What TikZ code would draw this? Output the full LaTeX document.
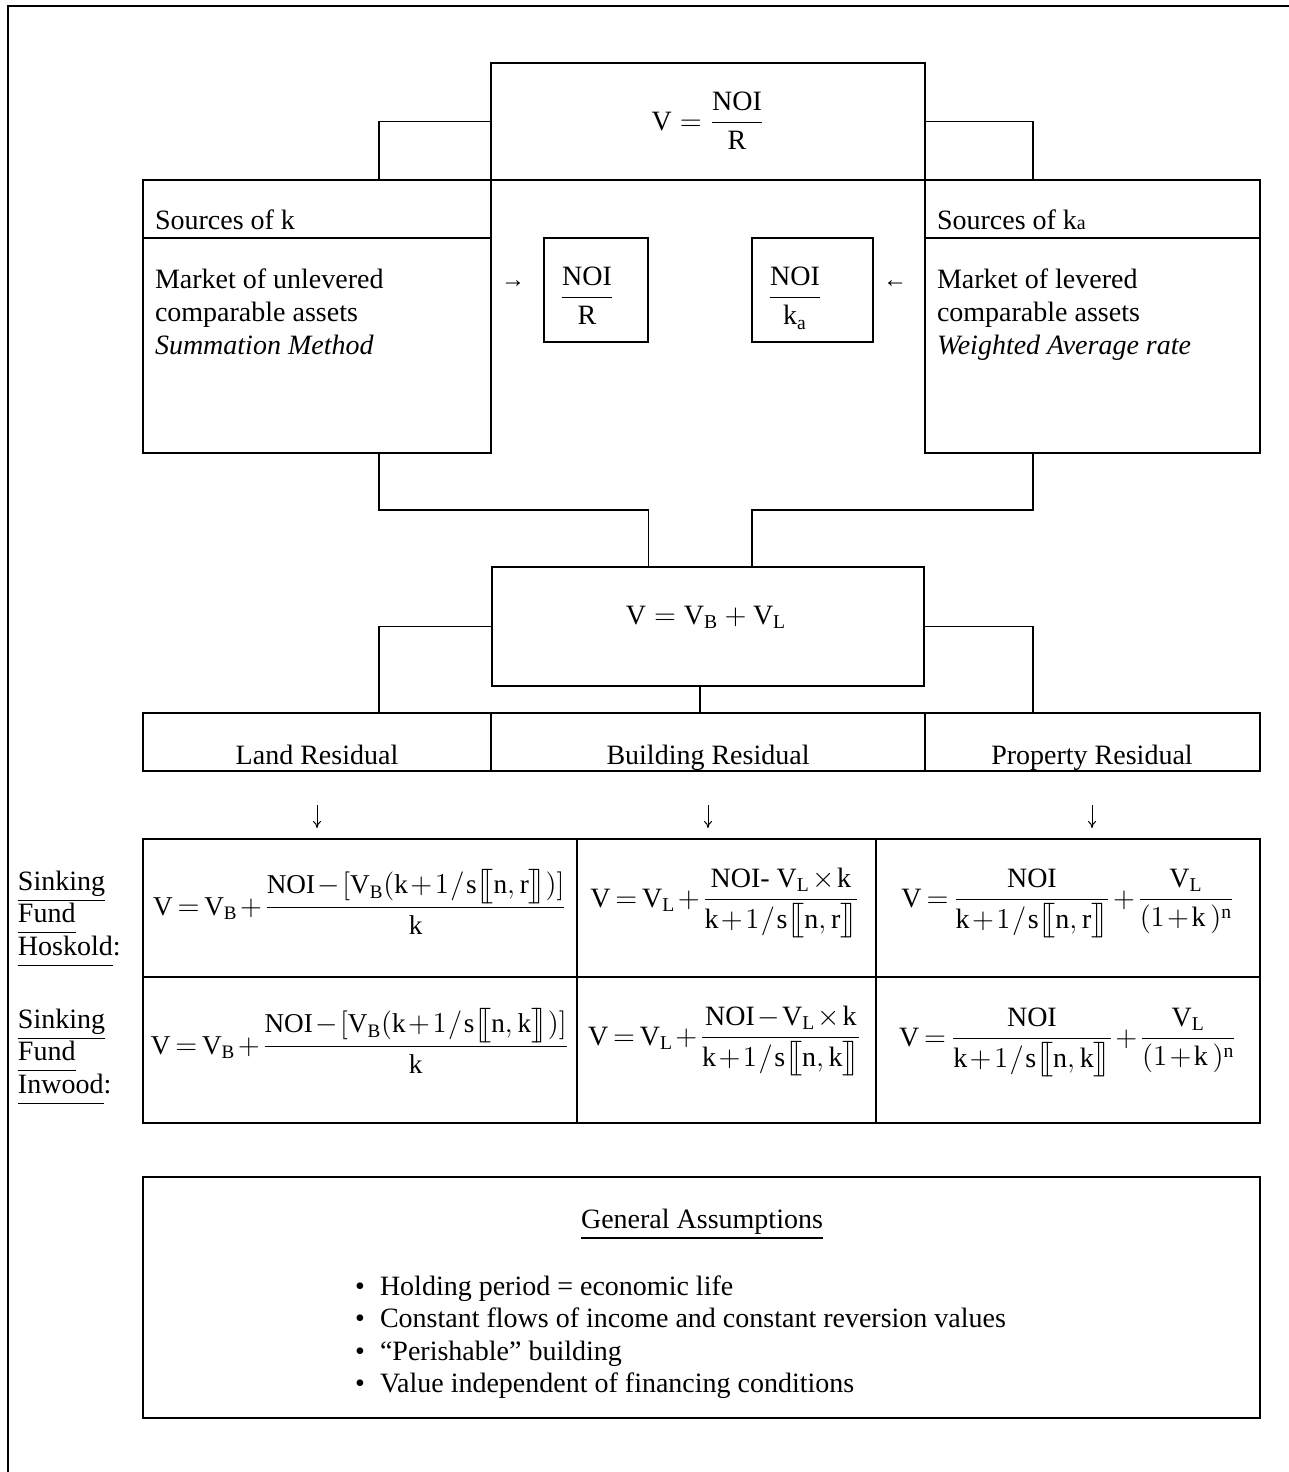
\documentclass[tikz,border=0pt]{standalone}
\usepackage{amsmath}
\usepackage{fontspec}
\setmainfont{Liberation Serif}
\usetikzlibrary{fit,arrows.meta}
\newcommand{\ulx}[1]{\underline{#1\vphantom{g}}}
\newcommand{\dbl}[1]{\mathrm{s}\bigl[\mkern-4.5mu\bigl[\mathrm{#1}\bigr]\mkern-4.5mu\bigr]}
\newcommand{\tight}{\medmuskip=1.5mu\thickmuskip=3mu}
\newcommand{\sla}{\mkern1mu/\mkern1mu}
\begin{document}
\begin{tikzpicture}[x=0.5pt,y=-0.5pt,
  frame/.style={draw, line width=1pt, inner sep=0pt, outer sep=0pt},
  conn/.style={line width=0.9pt},
  txt/.style={inner sep=0pt, outer sep=0pt, font=\fontsize{14}{16}\selectfont},
  fml/.style={inner sep=0pt, outer sep=0pt, font=\fontsize{14}{16}\selectfont},
  fmlland/.style={inner sep=0pt, outer sep=0pt, font=\fontsize{13.6}{16}\selectfont},
  glyph/.style={inner sep=0pt, outer sep=0pt, font=\fontsize{12}{14}\selectfont},
  downarr/.style={line width=0.5pt, -{To[length=3.5pt,width=4pt]}},
]
\useasboundingbox (0,0) rectangle (1289,1472);
% outer frame
\coordinate (fTL) at (8,6);
\coordinate (fTR) at (1289,6);
\coordinate (fBL) at (8,1472);
\draw[line width=1pt] (fTR) -- (fTL) -- (fBL);

% boxes
\node[frame, fit={(491,63) (925,180)}] (topbox) {};
\node[frame, fit={(143,180) (491,238)}] (srcLh) {};
\node[frame, fit={(143,238) (491,453)}] (srcLb) {};
\node[frame, fit={(925,180) (1260,238)}] (srcRh) {};
\node[frame, fit={(925,238) (1260,453)}] (srcRb) {};
\node[frame, fit={(544,238) (648,342)}] (frL) {};
\node[frame, fit={(752,238) (873,342)}] (frR) {};
\node[frame, fit={(491.5,567) (924,686)}] (vbox) {};
\node[frame, fit={(143,713) (491,771)}] (land) {};
\node[frame, fit={(491,713) (925,771)}] (bldg) {};
\node[frame, fit={(925,713) (1260,771)}] (prop) {};
\node[frame, fit={(143,839) (577,977)}] (c11) {};
\node[frame, fit={(577,839) (876,977)}] (c12) {};
\node[frame, fit={(876,839) (1260,977)}] (c13) {};
\node[frame, fit={(143,977) (577,1123)}] (c21) {};
\node[frame, fit={(577,977) (876,1123)}] (c22) {};
\node[frame, fit={(876,977) (1260,1123)}] (c23) {};
\node[frame, fit={(143,1177) (1260,1418)}] (ga) {};

% connectors
\coordinate (xL) at (379,0);
\coordinate (xR) at (1033,0);
\coordinate (xB) at (700,0);
\coordinate (jL) at (648.5,510);
\coordinate (jR) at (752,510);
\draw[conn] (srcLh.north -| xL) |- (topbox.west);
\draw[conn] (srcRh.north -| xR) |- (topbox.east);
\draw[conn] (srcLb.south -| xL) |- (jL) -- (jL |- vbox.north);
\draw[conn] (srcRb.south -| xR) |- (jR) -- (jR |- vbox.north);
\draw[conn] (vbox.west) -| (land.north -| xL);
\draw[conn] (vbox.east) -| (prop.north -| xR);
\draw[conn] (vbox.south -| xB) -- (bldg.north -| xB);

% texts top
\node[txt, anchor=base] (topf) at (708,130) {$\mathrm{V} = \dfrac{\mathrm{NOI}}{\mathrm{R}}$};
\node[txt, anchor=base west] (srcLt) at (155,229) {Sources of k};
\node[txt, anchor=base west] (srcRt) at (937,229) {Sources of k{\fontsize{10}{10}\selectfont a}};
\node[txt, anchor=base west] (l1) at (155,288) {Market of unlevered};
\node[txt, anchor=base west] (l2) at (155,321) {comparable assets};
\node[txt, anchor=base west] (l3) at (155,354) {\textit{Summation Method}};
\node[txt, anchor=base west] (r1) at (937,288) {Market of levered};
\node[txt, anchor=base west] (r2) at (937,321) {comparable assets};
\node[txt, anchor=base west] (r3) at (937,354) {\textit{Weighted Average rate}};
\node[txt, anchor=base] (frLt) at (587,305) {$\dfrac{\mathrm{NOI}}{\mathrm{R}}$};
\node[txt, anchor=base] (frRt) at (795,305) {$\dfrac{\mathrm{NOI}}{\mathrm{k}_{\mathrm{a}}}$};
\node[glyph] (arR) at (513,284) {→};
\node[glyph] (arL) at (895,284) {←};

% middle
\node[txt, anchor=base] (vbt) at (706,624) {$\mathrm{V = V_B + V_L}$};
\node[txt, anchor=base] (landt) at (317,764) {Land Residual};
\node[txt, anchor=base] (bldgt) at (708,764) {Building Residual};
\node[txt, anchor=base] (propt) at (1092,764) {Property Residual};
\coordinate (d1s) at (317,805); \coordinate (d1e) at (317,828);
\coordinate (d2s) at (708,805); \coordinate (d2e) at (708,828);
\coordinate (d3s) at (1092,805); \coordinate (d3e) at (1092,828);
\draw[downarr] (d1s) -- (d1e);
\draw[downarr] (d2s) -- (d2e);
\draw[downarr] (d3s) -- (d3e);

% row labels
\node[txt, anchor=base west] (h1) at (18,890) {\ulx{Sinking}};
\node[txt, anchor=base west] (h2) at (18,922) {\ulx{Fund}};
\node[txt, anchor=base west] (h3) at (18,955) {\ulx{Hoskold}:};
\node[txt, anchor=base west] (i1) at (18,1028) {\ulx{Sinking}};
\node[txt, anchor=base west] (i2) at (18,1060) {\ulx{Fund}};
\node[txt, anchor=base west] (i3) at (18,1093) {\ulx{Inwood}:};

% formulas
\node[fmlland, anchor=base] (f11) at (360,915) {$\tight\mathrm{V = V_B} + \dfrac{\mathrm{NOI} - [\mathrm{V_B}(\mathrm{k}+1\sla\dbl{n,r})]}{\mathrm{k}}$};
\node[fml, anchor=base] (f12) at (725,907) {$\tight\mathrm{V = V_L} + \dfrac{\mbox{NOI- }\mathrm{V_L}\times\mathrm{k}}{\mathrm{k}+1\sla\dbl{n,r}}$};
\node[fml, anchor=base] (f13) at (1068,907) {$\tight\mathrm{V} = \dfrac{\mathrm{NOI}}{\mathrm{k}+1\sla\dbl{n,r}} + \dfrac{\mathrm{V_L}}{(1+\mathrm{k}\,)^{\mathrm{n}}}$};
\node[fmlland, anchor=base] (f21) at (360,1054) {$\tight\mathrm{V = V_B} + \dfrac{\mathrm{NOI} - [\mathrm{V_B}(\mathrm{k}+1\sla\dbl{n,k})]}{\mathrm{k}}$};
\node[fml, anchor=base] (f22) at (725,1045) {$\tight\mathrm{V = V_L} + \dfrac{\mathrm{NOI} - \mathrm{V_L}\times\mathrm{k}}{\mathrm{k}+1\sla\dbl{n,k}}$};
\node[fml, anchor=base] (f23) at (1068,1046) {$\tight\mathrm{V} = \dfrac{\mathrm{NOI}}{\mathrm{k}+1\sla\dbl{n,k}} + \dfrac{\mathrm{V_L}}{(1+\mathrm{k}\,)^{\mathrm{n}}}$};

% general assumptions
\node[txt, anchor=base] (gat) at (702,1228) {\underline{General Assumptions}};
\node[txt, anchor=base west] (bu1) at (355,1295) {•};
\node[txt, anchor=base west] (bu2) at (355,1327) {•};
\node[txt, anchor=base west] (bu3) at (355,1360) {•};
\node[txt, anchor=base west] (bu4) at (355,1392) {•};
\node[txt, anchor=base west] (g1) at (380,1295) {Holding period = economic life};
\node[txt, anchor=base west] (g2) at (380,1327) {Constant flows of income and constant reversion values};
\node[txt, anchor=base west] (g3) at (380,1360) {“Perishable” building};
\node[txt, anchor=base west] (g4) at (380,1392) {Value independent of financing conditions};
\end{tikzpicture}
\end{document}
